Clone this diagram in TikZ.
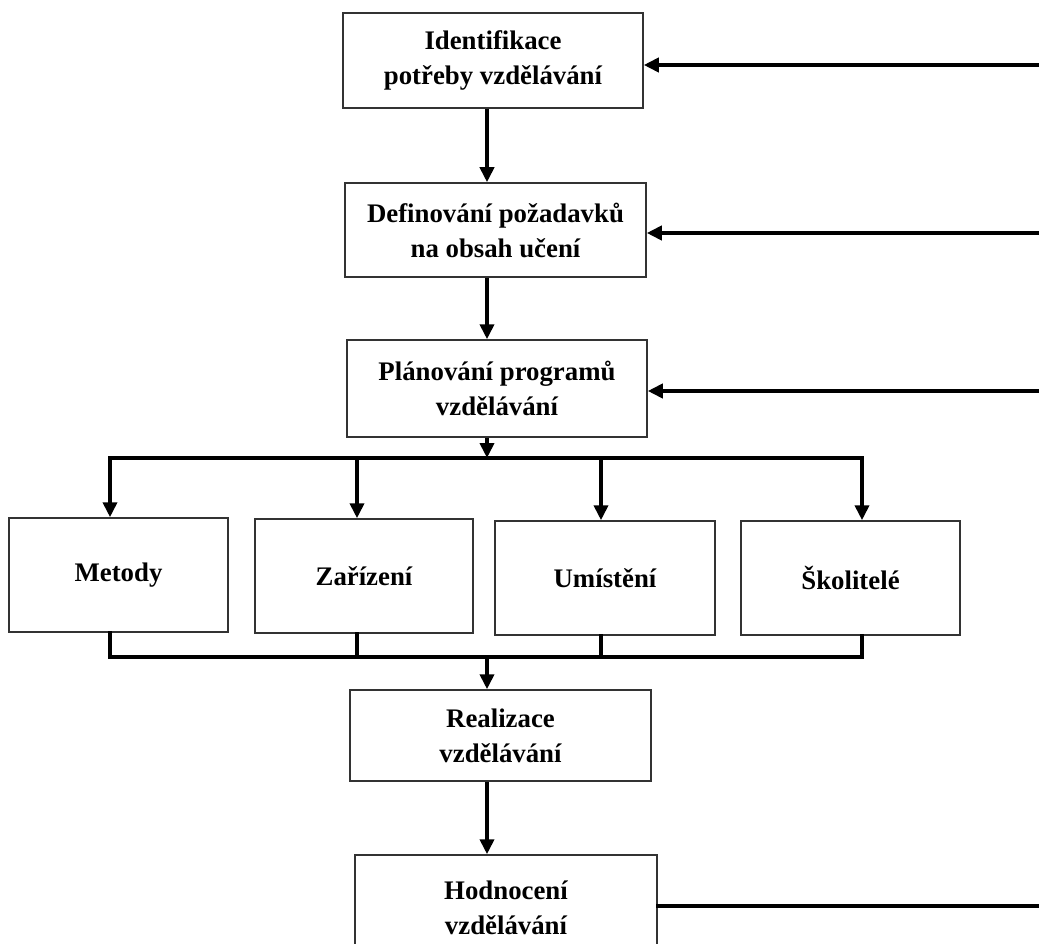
\documentclass[tikz,border=0pt]{standalone}
\usepackage{fontspec}
\setmainfont{Liberation Serif}
\usetikzlibrary{arrows.meta}
\begin{document}
\begin{tikzpicture}[x=1pt,y=-1pt,
  box/.style={draw=black!80, line width=1.5pt, fill=white, inner sep=0pt, align=center,
    font=\fontsize{26.8}{35}\selectfont\bfseries},
  conn/.style={line width=4pt, -{Triangle[length=15pt,width=14pt]}},
  wire/.style={line width=4pt, line cap=rect}]
\useasboundingbox (0,0) rectangle (1039,944);
% boxes
\node[box, minimum width=300pt, minimum height=95pt] (b1) at (493,60.5) {Identifikace\\potřeby vzdělávání};
\node[box, minimum width=301pt, minimum height=94pt] (b2) at (495.5,230) {Definování požadavků\\na obsah učení};
\node[box, minimum width=300pt, minimum height=97pt] (b3) at (497,388.5) {Plánování programů\\vzdělávání};
\node[box, minimum width=219pt, minimum height=114pt] (m1) at (118.5,575) {Metody};
\node[box, minimum width=218pt, minimum height=114pt] (m2) at (364,576) {Zařízení};
\node[box, minimum width=220pt, minimum height=114pt] (m3) at (605,578) {Umístění};
\node[box, minimum width=219pt, minimum height=114pt] (m4) at (850.5,578) {Školitelé};
\node[box, minimum width=301pt, minimum height=91pt] (b4) at (500.5,735.5) {Realizace\\vzdělávání};
\node[box, minimum width=302pt, minimum height=106pt] (b5) at (506,908) {Hodnocení\\vzdělávání};
% coordinates
\coordinate (bus) at (487,458);
\coordinate (lbus) at (487,657);
\coordinate (d1) at (110,458);
\coordinate (d2) at (357,458);
\coordinate (d3) at (601,458);
\coordinate (d4) at (862,458);
\coordinate (u1) at (110,657);
\coordinate (u2) at (357,657);
\coordinate (u3) at (601,657);
\coordinate (u4) at (862,657);
\coordinate (r1) at (1045,65);
\coordinate (r2) at (1045,233);
\coordinate (r3) at (1045,391);
\coordinate (r5) at (1045,906);
% main flow
\draw[conn] (b1.south -| bus) -- (b2.north -| bus);
\draw[conn] (b2.south -| bus) -- (b3.north -| bus);
\draw[conn] (b3.south -| bus) -- (bus);
\draw[wire] (d1) -- (d4);
\draw[conn] (d1) -- (d1 |- m1.north);
\draw[conn] (d2) -- (d2 |- m2.north);
\draw[conn] (d3) -- (d3 |- m3.north);
\draw[conn] (d4) -- (d4 |- m4.north);
\draw[wire] (u1 |- m1.south) -- (u1) -- (u4) -- (u4 |- m4.south);
\draw[wire] (u2 |- m2.south) -- (u2);
\draw[wire] (u3 |- m3.south) -- (u3);
\draw[conn] (lbus) -- (lbus |- b4.north);
\draw[conn] (b4.south -| bus) -- (b5.north -| bus);
% feedback
\draw[conn] (r1) -- (r1 -| b1.east);
\draw[conn] (r2) -- (r2 -| b2.east);
\draw[conn] (r3) -- (r3 -| b3.east);
\draw[wire] (b5.east |- r5) -- (r5);
\end{tikzpicture}
\end{document}
